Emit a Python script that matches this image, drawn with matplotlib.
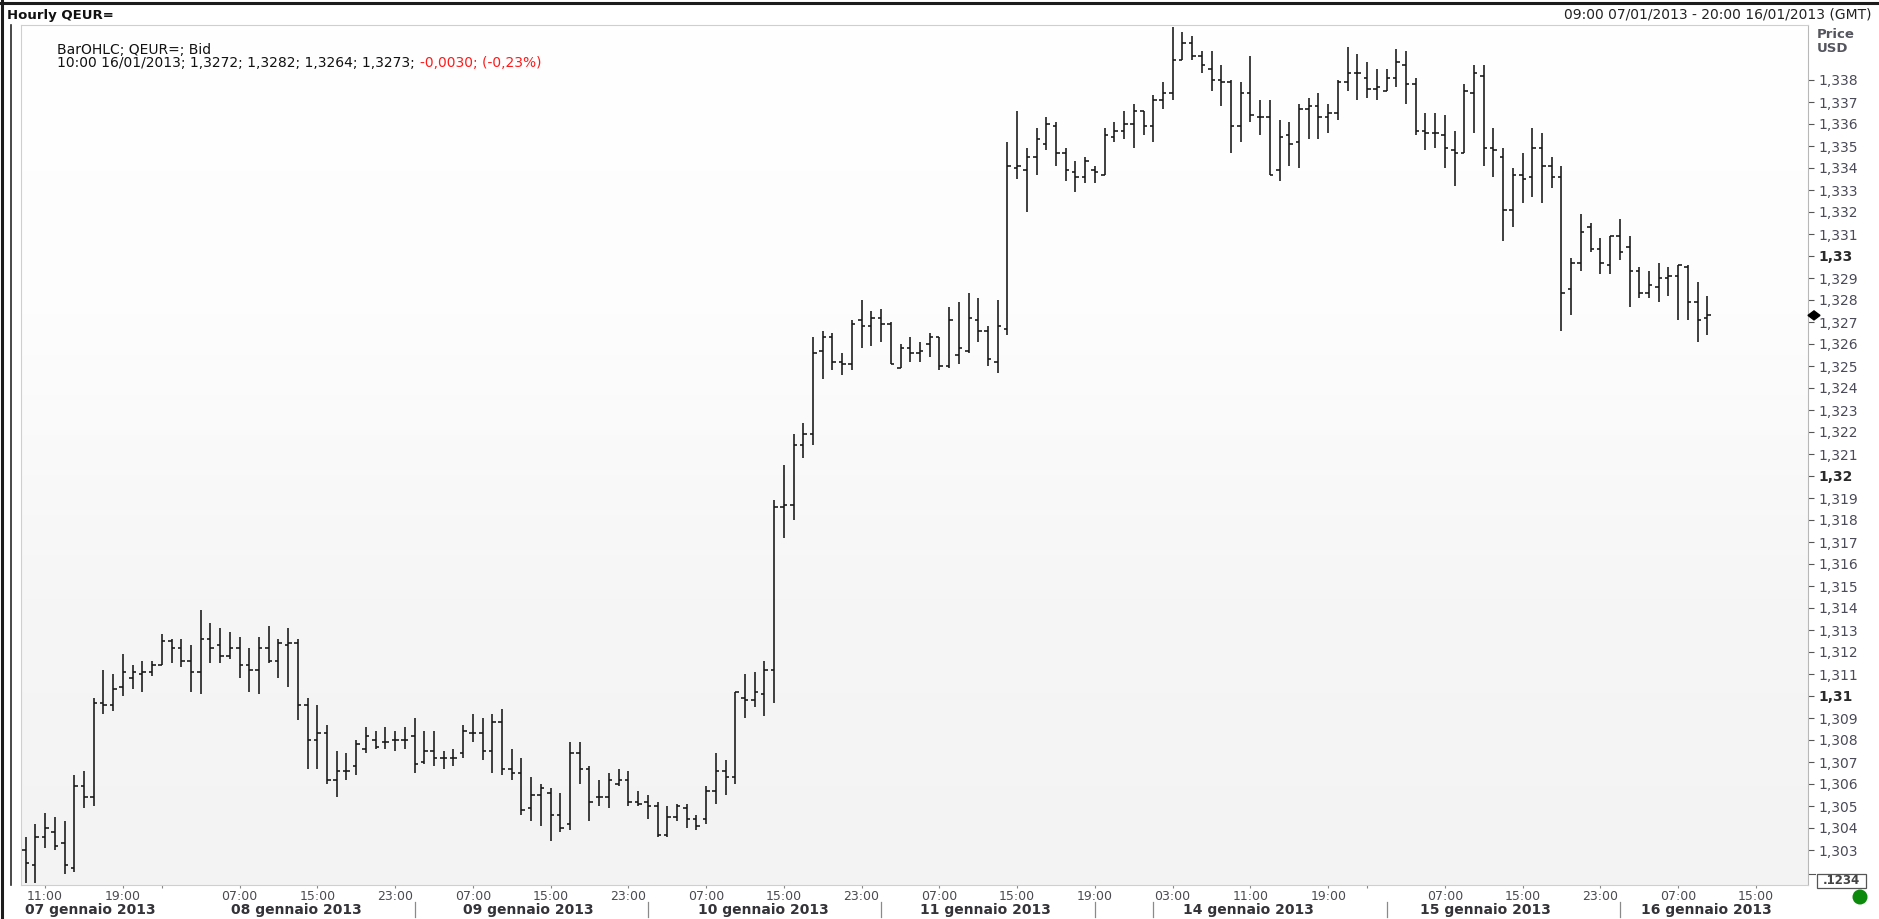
import matplotlib
matplotlib.use("Agg")
import matplotlib.pyplot as plt
import numpy as np
from matplotlib.collections import LineCollection
from matplotlib.patches import Rectangle, Polygon, Ellipse
from matplotlib.lines import Line2D
from matplotlib.colors import LinearSegmentedColormap

plt.rcParams['font.family'] = ['DejaVu Sans']

# ---------------- data (hourly OHLC, QEUR= bid) ----------------
opens = [1.3030, 1.3023, 1.3036, 1.3038, 1.3033, 1.3022, 1.3059, 1.3054, 1.3097, 1.3096,
         1.3104, 1.3108, 1.3110, 1.3111, 1.3114, 1.3125, 1.3122, 1.3116, 1.3111, 1.3126,
         1.3123, 1.3118, 1.3122, 1.3114, 1.3112, 1.3122, 1.3116, 1.3123, 1.3124, 1.3096,
         1.3080, 1.3083, 1.3062, 1.3066, 1.3068, 1.3076, 1.3080, 1.3079, 1.3080, 1.3080,
         1.3082, 1.3070, 1.3075, 1.3072, 1.3072, 1.3074, 1.3083, 1.3083, 1.3075, 1.3088,
         1.3067, 1.3065, 1.3049, 1.3055, 1.3056, 1.3046, 1.3042, 1.3074, 1.3067, 1.3054,
         1.3054, 1.3060, 1.3062, 1.3052, 1.3052, 1.3050, 1.3037, 1.3045, 1.3049, 1.3044,
         1.3044, 1.3057, 1.3066, 1.3063, 1.3099, 1.3098, 1.3101, 1.3112, 1.3186, 1.3187,
         1.3214, 1.3219, 1.3257, 1.3263, 1.3252, 1.3251, 1.3271, 1.3268, 1.3272, 1.3269,
         1.3249, 1.3258, 1.3256, 1.3260, 1.3263, 1.3250, 1.3255, 1.3257, 1.3271, 1.3266,
         1.3252, 1.3267, 1.3340, 1.3339, 1.3345, 1.3351, 1.3359, 1.3347, 1.3338, 1.3336,
         1.3339, 1.3337, 1.3354, 1.3357, 1.3360, 1.3366, 1.3359, 1.3371, 1.3374, 1.3389,
         1.3397, 1.3391, 1.3385, 1.3380, 1.3379, 1.3359, 1.3374, 1.3363, 1.3363, 1.3339,
         1.3355, 1.3352, 1.3367, 1.3368, 1.3363, 1.3365, 1.3379, 1.3383, 1.3381, 1.3376,
         1.3375, 1.3381, 1.3387, 1.3378, 1.3357, 1.3356, 1.3355, 1.3348, 1.3347, 1.3374,
         1.3382, 1.3349, 1.3345, 1.3321, 1.3337, 1.3336, 1.3349, 1.3341, 1.3336, 1.3285,
         1.3297, 1.3313, 1.3303, 1.3296, 1.3309, 1.3304, 1.3293, 1.3283, 1.3286, 1.3290,
         1.3291, 1.3295, 1.3279, 1.3272]
highs = [1.3036, 1.3042, 1.3047, 1.3045, 1.3043, 1.3064, 1.3066, 1.3099, 1.3112, 1.3110,
         1.3119, 1.3114, 1.3116, 1.3116, 1.3128, 1.3126, 1.3126, 1.3123, 1.3139, 1.3133,
         1.3131, 1.3129, 1.3127, 1.3122, 1.3127, 1.3132, 1.3126, 1.3131, 1.3126, 1.3099,
         1.3096, 1.3087, 1.3075, 1.3074, 1.3080, 1.3086, 1.3084, 1.3086, 1.3084, 1.3086,
         1.3090, 1.3084, 1.3084, 1.3075, 1.3076, 1.3087, 1.3092, 1.3090, 1.3092, 1.3094,
         1.3076, 1.3072, 1.3063, 1.3060, 1.3058, 1.3056, 1.3079, 1.3079, 1.3068, 1.3062,
         1.3065, 1.3067, 1.3066, 1.3057, 1.3055, 1.3052, 1.3050, 1.3051, 1.3051, 1.3046,
         1.3059, 1.3074, 1.3071, 1.3102, 1.3110, 1.3111, 1.3116, 1.3189, 1.3205, 1.3219,
         1.3224, 1.3263, 1.3266, 1.3265, 1.3256, 1.3271, 1.3280, 1.3275, 1.3276, 1.3270,
         1.3260, 1.3263, 1.3261, 1.3265, 1.3263, 1.3277, 1.3279, 1.3283, 1.3281, 1.3268,
         1.3280, 1.3352, 1.3366, 1.3349, 1.3358, 1.3363, 1.3361, 1.3349, 1.3343, 1.3345,
         1.3341, 1.3358, 1.3361, 1.3366, 1.3369, 1.3366, 1.3373, 1.3379, 1.3404, 1.3402,
         1.3400, 1.3393, 1.3393, 1.3387, 1.3380, 1.3379, 1.3391, 1.3371, 1.3371, 1.3362,
         1.3361, 1.3369, 1.3372, 1.3374, 1.3369, 1.3380, 1.3395, 1.3392, 1.3388, 1.3385,
         1.3385, 1.3394, 1.3393, 1.3381, 1.3365, 1.3365, 1.3364, 1.3357, 1.3378, 1.3387,
         1.3387, 1.3358, 1.3349, 1.3340, 1.3347, 1.3358, 1.3356, 1.3345, 1.3341, 1.3299,
         1.3319, 1.3315, 1.3308, 1.3309, 1.3317, 1.3309, 1.3295, 1.3293, 1.3297, 1.3295,
         1.3296, 1.3296, 1.3288, 1.3282]
lows = [1.3015, 1.3015, 1.3031, 1.3030, 1.3019, 1.3020, 1.3049, 1.3050, 1.3092, 1.3093,
        1.3100, 1.3103, 1.3102, 1.3109, 1.3114, 1.3115, 1.3113, 1.3102, 1.3101, 1.3115,
        1.3115, 1.3117, 1.3108, 1.3102, 1.3101, 1.3115, 1.3108, 1.3104, 1.3089, 1.3067,
        1.3067, 1.3060, 1.3054, 1.3062, 1.3064, 1.3074, 1.3076, 1.3076, 1.3075, 1.3076,
        1.3065, 1.3069, 1.3068, 1.3067, 1.3068, 1.3072, 1.3079, 1.3071, 1.3065, 1.3064,
        1.3062, 1.3046, 1.3043, 1.3041, 1.3034, 1.3038, 1.3039, 1.3060, 1.3043, 1.3050,
        1.3049, 1.3059, 1.3050, 1.3050, 1.3044, 1.3036, 1.3036, 1.3043, 1.3040, 1.3039,
        1.3042, 1.3051, 1.3055, 1.3060, 1.3090, 1.3095, 1.3091, 1.3097, 1.3172, 1.3180,
        1.3208, 1.3214, 1.3244, 1.3248, 1.3246, 1.3248, 1.3258, 1.3259, 1.3261, 1.3251,
        1.3249, 1.3252, 1.3252, 1.3254, 1.3248, 1.3249, 1.3251, 1.3256, 1.3261, 1.3250,
        1.3247, 1.3264, 1.3335, 1.3320, 1.3337, 1.3348, 1.3341, 1.3334, 1.3329, 1.3333,
        1.3333, 1.3337, 1.3352, 1.3353, 1.3349, 1.3355, 1.3352, 1.3367, 1.3371, 1.3389,
        1.3389, 1.3383, 1.3375, 1.3368, 1.3347, 1.3352, 1.3361, 1.3355, 1.3337, 1.3334,
        1.3341, 1.3340, 1.3353, 1.3353, 1.3356, 1.3362, 1.3375, 1.3371, 1.3372, 1.3371,
        1.3375, 1.3377, 1.3369, 1.3355, 1.3348, 1.3349, 1.3340, 1.3332, 1.3347, 1.3356,
        1.3341, 1.3336, 1.3307, 1.3313, 1.3324, 1.3327, 1.3324, 1.3331, 1.3266, 1.3273,
        1.3293, 1.3302, 1.3292, 1.3292, 1.3298, 1.3277, 1.3281, 1.3281, 1.3279, 1.3282,
        1.3271, 1.3271, 1.3261, 1.3264]
closes = [1.3024, 1.3036, 1.3040, 1.3032, 1.3023, 1.3059, 1.3054, 1.3097, 1.3096, 1.3103,
          1.3111, 1.3111, 1.3111, 1.3114, 1.3125, 1.3122, 1.3116, 1.3111, 1.3126, 1.3122,
          1.3118, 1.3122, 1.3114, 1.3112, 1.3122, 1.3116, 1.3124, 1.3124, 1.3096, 1.3080,
          1.3083, 1.3062, 1.3066, 1.3066, 1.3078, 1.3082, 1.3077, 1.3079, 1.3080, 1.3080,
          1.3069, 1.3075, 1.3072, 1.3072, 1.3072, 1.3084, 1.3083, 1.3075, 1.3088, 1.3067,
          1.3065, 1.3048, 1.3055, 1.3058, 1.3046, 1.3040, 1.3074, 1.3067, 1.3052, 1.3054,
          1.3062, 1.3062, 1.3052, 1.3051, 1.3050, 1.3037, 1.3045, 1.3050, 1.3044, 1.3041,
          1.3057, 1.3066, 1.3063, 1.3102, 1.3098, 1.3102, 1.3112, 1.3186, 1.3187, 1.3214,
          1.3219, 1.3256, 1.3263, 1.3252, 1.3251, 1.3269, 1.3268, 1.3272, 1.3269, 1.3251,
          1.3258, 1.3256, 1.3257, 1.3263, 1.3250, 1.3271, 1.3258, 1.3272, 1.3266, 1.3253,
          1.3268, 1.3341, 1.3341, 1.3345, 1.3353, 1.3360, 1.3347, 1.3339, 1.3336, 1.3343,
          1.3338, 1.3355, 1.3357, 1.3360, 1.3366, 1.3359, 1.3371, 1.3374, 1.3389, 1.3397,
          1.3391, 1.3387, 1.3380, 1.3379, 1.3359, 1.3374, 1.3364, 1.3363, 1.3337, 1.3354,
          1.3351, 1.3367, 1.3368, 1.3363, 1.3365, 1.3379, 1.3383, 1.3383, 1.3376, 1.3377,
          1.3381, 1.3388, 1.3378, 1.3357, 1.3356, 1.3356, 1.3349, 1.3347, 1.3375, 1.3383,
          1.3349, 1.3348, 1.3321, 1.3337, 1.3335, 1.3349, 1.3341, 1.3336, 1.3283, 1.3297,
          1.3311, 1.3303, 1.3297, 1.3309, 1.3302, 1.3293, 1.3283, 1.3287, 1.3290, 1.3291,
          1.3296, 1.3279, 1.3271, 1.3273]

# hour labels on the time axis (bar index -> label)
hour_tick_pos = [2, 10, 22, 30, 38, 46, 54, 62, 70, 78, 86, 94, 102, 110, 118, 126, 134,
                 146, 154, 162, 170, 178]
hour_tick_labels = ['11:00', '19:00', '07:00', '15:00', '23:00', '07:00', '15:00', '23:00',
                    '07:00', '15:00', '23:00', '07:00', '15:00', '19:00', '03:00', '11:00',
                    '19:00', '07:00', '15:00', '23:00', '07:00', '15:00']
minor_tick_pos = [14, 138]
day_labels = ['07 gennaio 2013', '08 gennaio 2013', '09 gennaio 2013', '10 gennaio 2013',
              '11 gennaio 2013', '14 gennaio 2013', '15 gennaio 2013', '16 gennaio 2013']
day_label_pos = [6.6, 27.8, 51.7, 75.9, 98.7, 125.8, 150.2, 172.9]
day_sep_pos = [40, 64, 88, 110, 116, 140, 164]
y_ticks = [round(1.303 + 0.001 * k, 3) for k in range(36)]
last_price = 1.3273

title_left = 'Hourly QEUR='
title_right = '09:00 07/01/2013 - 20:00 16/01/2013 (GMT)'
info_line1 = 'BarOHLC; QEUR=; Bid'
info_line2_black = '10:00 16/01/2013; 1,3272; 1,3282; 1,3264; 1,3273;'
info_line2_red = '-0,0030; (-0,23%)'

# ---------------- figure ----------------
W, H = 1879, 919
fig = plt.figure(figsize=(W / 100, H / 100), dpi=100)
fig.patch.set_facecolor('white')


def fx(px):
    return px / W


def fy(py):
    return 1 - py / H


PL, PR, PT, PB = 21, 1808, 25, 885
ax = fig.add_axes([fx(PL), fy(PB), (PR - PL) / W, (PB - PT) / H])

BAR_X0 = 25.7
BAR_DX = 9.72
xlim = ((PL - BAR_X0) / BAR_DX, (PR - BAR_X0) / BAR_DX)
ylim = (1.338 - (PB - 80) / 22000.0, 1.338 + (80 - PT) / 22000.0)

# background gradient
grad = np.linspace(0, 1, 256).reshape(-1, 1)
cmap = LinearSegmentedColormap.from_list('bg', ['#ffffff', '#fdfdfd', '#f6f6f6', '#f3f3f3'])
ax.imshow(grad, aspect='auto', cmap=cmap, extent=[xlim[0], xlim[1], ylim[0], ylim[1]],
          origin='upper', zorder=0, interpolation='bilinear')

# OHLC bars
n = len(opens)
tk = 0.36
segs = []
for i in range(n):
    segs.append([(i, lows[i]), (i, highs[i])])
    segs.append([(i - tk, opens[i]), (i, opens[i])])
    segs.append([(i, closes[i]), (i + tk, closes[i])])
lc = LineCollection(segs, colors='#151515', linewidths=1.15, capstyle='butt', zorder=3)
ax.add_collection(lc)

ax.set_xlim(*xlim)
ax.set_ylim(*ylim)

for s in ax.spines.values():
    s.set_color('#cfcfcf')
    s.set_linewidth(0.8)
ax.spines['right'].set_color('#b8b8b8')

# y axis on the right
ax.yaxis.tick_right()
ax.set_yticks(y_ticks)


def fmt(v):
    s = ('%.3f' % v).rstrip('0').rstrip('.')
    return s.replace('.', ',')


ax.set_yticklabels([fmt(v) for v in y_ticks])
ax.tick_params(axis='y', direction='out', length=4.5, width=0.8, color='#555555', pad=3.0,
               labelsize=10, labelcolor='#4a4a58')
for lab, v in zip(ax.get_yticklabels(), y_ticks):
    if abs(v * 100 - round(v * 100)) < 1e-7:
        lab.set_fontweight('bold')
        lab.set_color('#2a2a2a')

# x axis ticks (marks only), labels drawn as text
ax.set_xticks(hour_tick_pos + minor_tick_pos)
ax.set_xticklabels([''] * (len(hour_tick_pos) + len(minor_tick_pos)))
ax.tick_params(axis='x', direction='out', length=2.5, width=0.8, color='#888888')

xt = ax.get_xaxis_transform()
for p, lab in zip(hour_tick_pos, hour_tick_labels):
    ax.text(p, -(896 - PB) / (PB - PT), lab, transform=xt, ha='center', va='center',
            fontsize=9, color='#4a4a50', clip_on=False)
for p, lab in zip(day_label_pos, day_labels):
    ax.text(p, -(910 - PB) / (PB - PT), lab, transform=xt, ha='center', va='center',
            fontsize=10, fontweight='bold', color='#333338', clip_on=False)
for p in day_sep_pos:
    ax.add_line(Line2D([p, p], [-(902 - PB) / (PB - PT), -(917 - PB) / (PB - PT)],
                       transform=xt, color='#8a8a8a', lw=0.9, clip_on=False))

# last price diamond
dcx, dcy = PR + 6, 80 + (1.338 - last_price) * 22000
fig.add_artist(Polygon([(fx(dcx - 6), fy(dcy)), (fx(dcx), fy(dcy - 4.5)),
                        (fx(dcx + 6), fy(dcy)), (fx(dcx), fy(dcy + 4.5))],
                       closed=True, transform=fig.transFigure, color='black', zorder=10))

# frame lines
fig.add_artist(Line2D([fx(0), fx(W)], [fy(2.5), fy(2.5)], transform=fig.transFigure,
                      color='#1c1c1c', lw=2.2))
fig.add_artist(Line2D([fx(1.5), fx(1.5)], [fy(0), fy(H)], transform=fig.transFigure,
                      color='#1c1c1c', lw=2.2))
fig.add_artist(Line2D([fx(11), fx(11)], [fy(PT), fy(PB)], transform=fig.transFigure,
                      color='#2a2a2a', lw=1.2))

# header
fig.text(fx(7), fy(15), title_left, fontsize=9.5, fontweight='bold', color='#111111',
         ha='left', va='center')
fig.text(fx(1872), fy(15), title_right, fontsize=10, color='#222222', ha='right', va='center')
fig.text(fx(1817), fy(35), 'Price', fontsize=9.5, fontweight='bold', color='#55555f',
         ha='left', va='center')
fig.text(fx(1817), fy(49), 'USD', fontsize=9.5, fontweight='bold', color='#55555f',
         ha='left', va='center')

# info lines
fig.text(fx(57), fy(50), info_line1, fontsize=10, color='#111111', ha='left', va='center')
t_black = fig.text(fx(57), fy(63), info_line2_black, fontsize=10, color='#111111',
                   ha='left', va='center')
fig.canvas.draw()
bb = t_black.get_window_extent(renderer=fig.canvas.get_renderer())
fig.text((bb.x1 + 5) / W, fy(63), info_line2_red, fontsize=10, color='#ff1a1a',
         ha='left', va='center')

# scale box and status dot
fig.add_artist(Rectangle((fx(1817), fy(888)), 49 / W, 14 / H, transform=fig.transFigure,
                         facecolor='white', edgecolor='#555555', lw=0.9))
fig.text(fx(1841.5), fy(881), '.1234', fontsize=8.5, fontweight='bold', color='#444444',
         ha='center', va='center')
fig.add_artist(Line2D([fx(1809), fx(1815)], [fy(874), fy(874)], transform=fig.transFigure,
                      color='#555555', lw=0.8))
fig.add_artist(Ellipse((fx(1860), fy(897)), 15 / W, 15 / H, transform=fig.transFigure,
                       facecolor='#0b8a0b', edgecolor='none'))

fig.savefig('out.png', dpi=100, facecolor='white')
